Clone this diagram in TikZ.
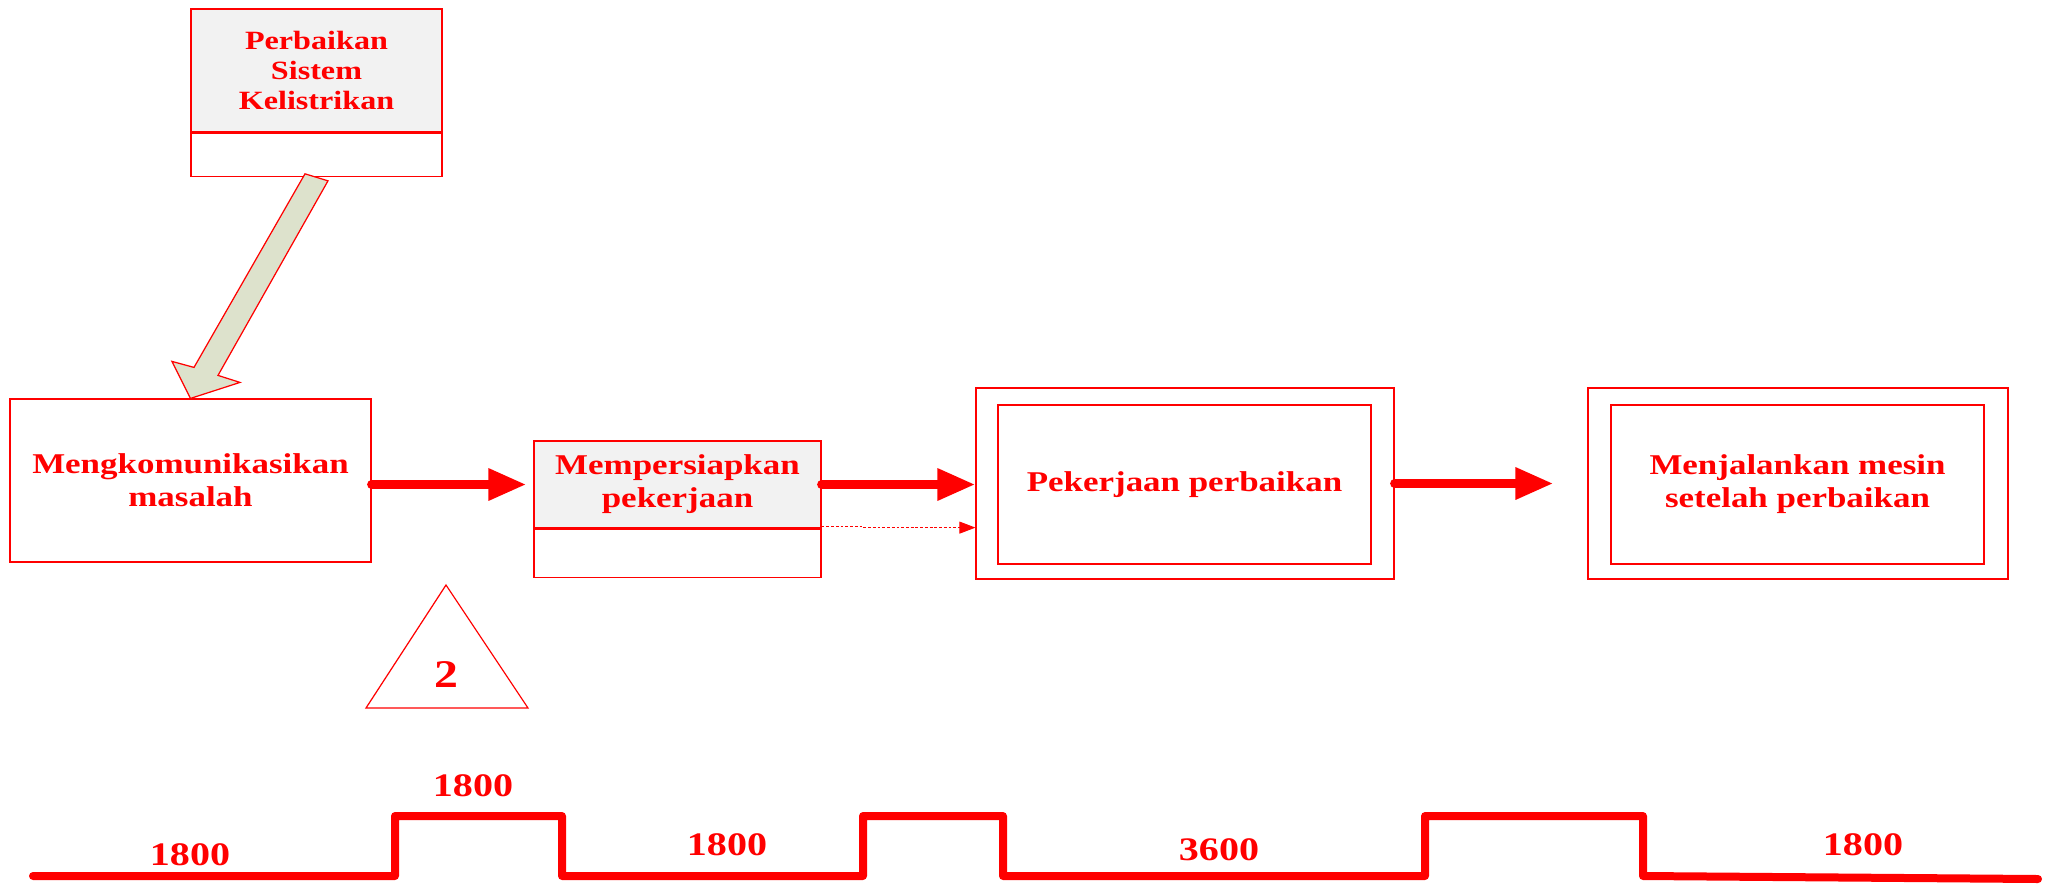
\documentclass[tikz,border=0pt]{standalone}
\usepackage{fontspec}
\setmainfont{Liberation Serif}[FakeStretch=1.22]
\usetikzlibrary{arrows.meta,calc}
\definecolor{boxgrey}{HTML}{F2F2F2}
\definecolor{arrowfill}{HTML}{DDE2CC}
\begin{document}
\begin{tikzpicture}[x=0.02cm,y=-0.02cm,
  frame/.style={draw=red,line width=0.7pt,inner sep=0pt,align=center,text=red,
    font=\fontsize{16.3}{18.8}\selectfont\bfseries},
  flow/.style={draw=red,line width=0.18cm,line cap=round,
    -{Triangle[length=0.76cm,width=0.6cm]}},
  dotflow/.style={draw=red,line width=0.5pt,dash pattern=on 1.6pt off 1.1pt,
    -{Triangle[length=0.32cm,width=0.24cm]}},
  num/.style={text=red,inner sep=0pt,font=\fontsize{18.7}{20}\selectfont\bfseries}]
\useasboundingbox (0,0) rectangle (2051,883);

% process boxes
\node[frame,fill=boxgrey,minimum width=5.02cm,minimum height=2.46cm,
  font=\fontsize{15}{17.1}\selectfont\bfseries] (pb) at (316.5,70.5) {Perbaikan\\Sistem\\Kelistrikan};
\node[frame,minimum width=5.02cm,minimum height=0.86cm,anchor=north] (pbw) at (pb.south) {};

\node[frame,minimum width=7.22cm,minimum height=3.26cm] (mk) at (190.5,480.5) {Mengkomunikasikan\\masalah};

\node[frame,fill=boxgrey,minimum width=5.74cm,minimum height=1.74cm] (mp) at (677.5,484.5) {Mempersiapkan\\pekerjaan};
\node[frame,minimum width=5.74cm,minimum height=0.96cm,anchor=north] (mpw) at (mp.south) {};

\node[frame,minimum width=8.36cm,minimum height=3.82cm] (pk) at (1185,483.5) {};
\node[frame,minimum width=7.46cm,minimum height=3.18cm] (pki) at (1184.5,484.5) {Pekerjaan perbaikan};

\node[frame,minimum width=8.4cm,minimum height=3.82cm] (mj) at (1798,483.5) {};
\node[frame,minimum width=7.46cm,minimum height=3.18cm] (mji) at (1797.5,484.5) {Menjalankan mesin\\setelah perbaikan};

% block arrow from the top box down to the first step
\coordinate (ba) at (pbw.south);
\coordinate (bb) at (mk.north);
\draw[red,line width=0.7pt,fill=arrowfill,line join=miter]
  ($(ba)+(-11.5,-3)$) -- ($(bb)+(3.5,-31)$) -- ($(bb)+(-18.5,-37)$)
  -- (bb) -- ($(bb)+(49.5,-16)$) -- ($(bb)+(27.5,-23)$)
  -- ($(ba)+(11.5,4)$) -- cycle;

% flow arrows
\draw[flow,shorten >=0.14cm] (mk.east |- mp.west) -- (mp.west);
\draw[flow] (mp.east) -- (mp.east -| pk.west);
\draw[flow,shorten >=0.68cm] (pk.east) -- (pk.east -| mj.west);

% dashed link
\coordinate (ds) at ($(mp.south east)+(0,-2)$);
\coordinate (dk) at ($(mp.south east)+(42,-1)$);
\draw[dotflow] (ds) -- ++(42,0) -- (dk) -- (dk -| pk.west);

% triangle marker
\draw[red,line width=0.7pt] (446,585) -- (528,708) -- (366,708) -- cycle;
\node[text=red,inner sep=0pt,font=\fontsize{22.3}{24}\selectfont\bfseries] (two) at (446,675) {2};

% time line
\draw[red,line width=0.16cm,line join=round,line cap=round]
  (33,876) -- (395,876) -- (395,816) -- (562,816) -- (562,876) -- (863,876)
  -- (863,816) -- (1003,816) -- (1003,876) -- (1425,876) -- (1425,816)
  -- (1643,816) -- (1643,876) -- (2038,879);
\node[num] (t1) at (190,855) {1800};
\node[num] (t2) at (473,786) {1800};
\node[num] (t3) at (727,845) {1800};
\node[num] (t4) at (1219,850) {3600};
\node[num] (t5) at (1863,845) {1800};
\end{tikzpicture}
\end{document}
